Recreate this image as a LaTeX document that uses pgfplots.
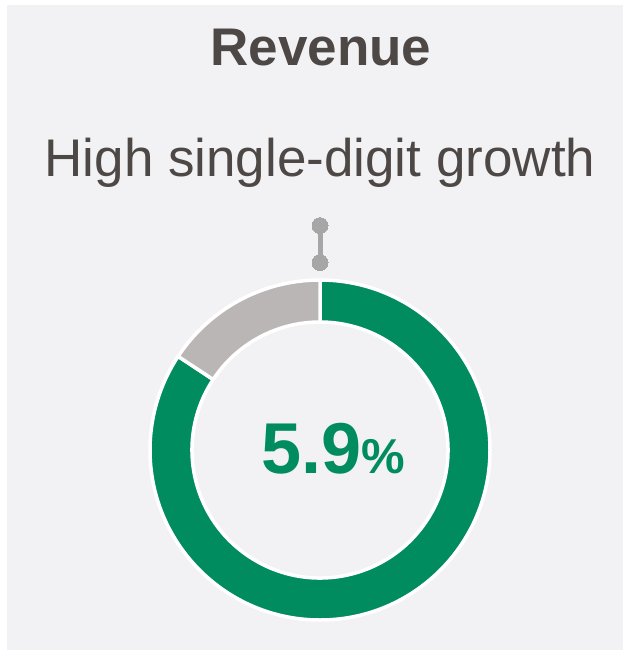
\documentclass[border=0pt]{standalone}
\usepackage{pgfplots}
\pgfplotsset{compat=1.18}
\usepackage{pgfplotstable}
\usepackage{fontspec}
\setmainfont{Liberation Sans}
\definecolor{bgpanel}{HTML}{F2F2F4}
\definecolor{txtgray}{HTML}{4D4846}
\definecolor{kpigreen}{HTML}{008C5F}
\definecolor{restgray}{HTML}{BAB6B5}
\definecolor{markgray}{HTML}{A6A6A6}

\pgfplotstableread{
segment value
actual 5.9
scale 7
}\donutdata

\begin{document}
\begin{tikzpicture}
\fill[white] (0pt,0pt) rectangle (623pt,-650pt);
\fill[bgpanel] (7pt,-5pt) rectangle (623pt,-650pt);
\pgfplotstablegetelem{0}{value}\of\donutdata \let\actualval\pgfplotsretval
\pgfplotstablegetelem{1}{value}\of\donutdata \let\scalemax\pgfplotsretval
\pgfmathsetmacro{\splitangle}{90-\actualval/\scalemax*360}
\def\rin{0.753}
\begin{axis}[at={(320pt,-450pt)}, anchor=center, scale only axis,
  width=340pt, height=340pt, xmin=-1, xmax=1, ymin=-1, ymax=1,
  hide axis, clip=false]
\filldraw[fill=kpigreen, draw=white, line width=3.5pt, line join=miter]
  (axis cs:0,1) arc[start angle=90, end angle=\splitangle, radius=1]
  -- (axis cs:{\rin*cos(\splitangle)},{\rin*sin(\splitangle)})
  arc[start angle=\splitangle, end angle=90, radius=\rin] -- cycle;
\filldraw[fill=restgray, draw=white, line width=3.5pt, line join=miter]
  (axis cs:0,1) arc[start angle=90, end angle=\splitangle+360, radius=1]
  -- (axis cs:{\rin*cos(\splitangle)},{\rin*sin(\splitangle)})
  arc[start angle=\splitangle+360, end angle=90, radius=\rin] -- cycle;
\addplot[markgray, line width=5pt, mark=*, mark size=8pt,
  mark options={fill=markgray, draw=markgray, line width=0pt}]
  coordinates {(0,1.103) (0,1.320)};
\end{axis}
\node[anchor=base, text=txtgray, font=\fontsize{53}{60}\selectfont\bfseries] at (321pt,-66pt) {Revenue};
\node[anchor=base, text=txtgray, font=\fontsize{53}{60}\selectfont] at (320pt,-176pt) {High single-digit growth};
\node[anchor=base, text=kpigreen, font=\bfseries, inner sep=0pt] at (333pt,-473pt)
  {\fontsize{72}{80}\selectfont 5.9\fontsize{49}{56}\selectfont\%};
\end{tikzpicture}
\end{document}
